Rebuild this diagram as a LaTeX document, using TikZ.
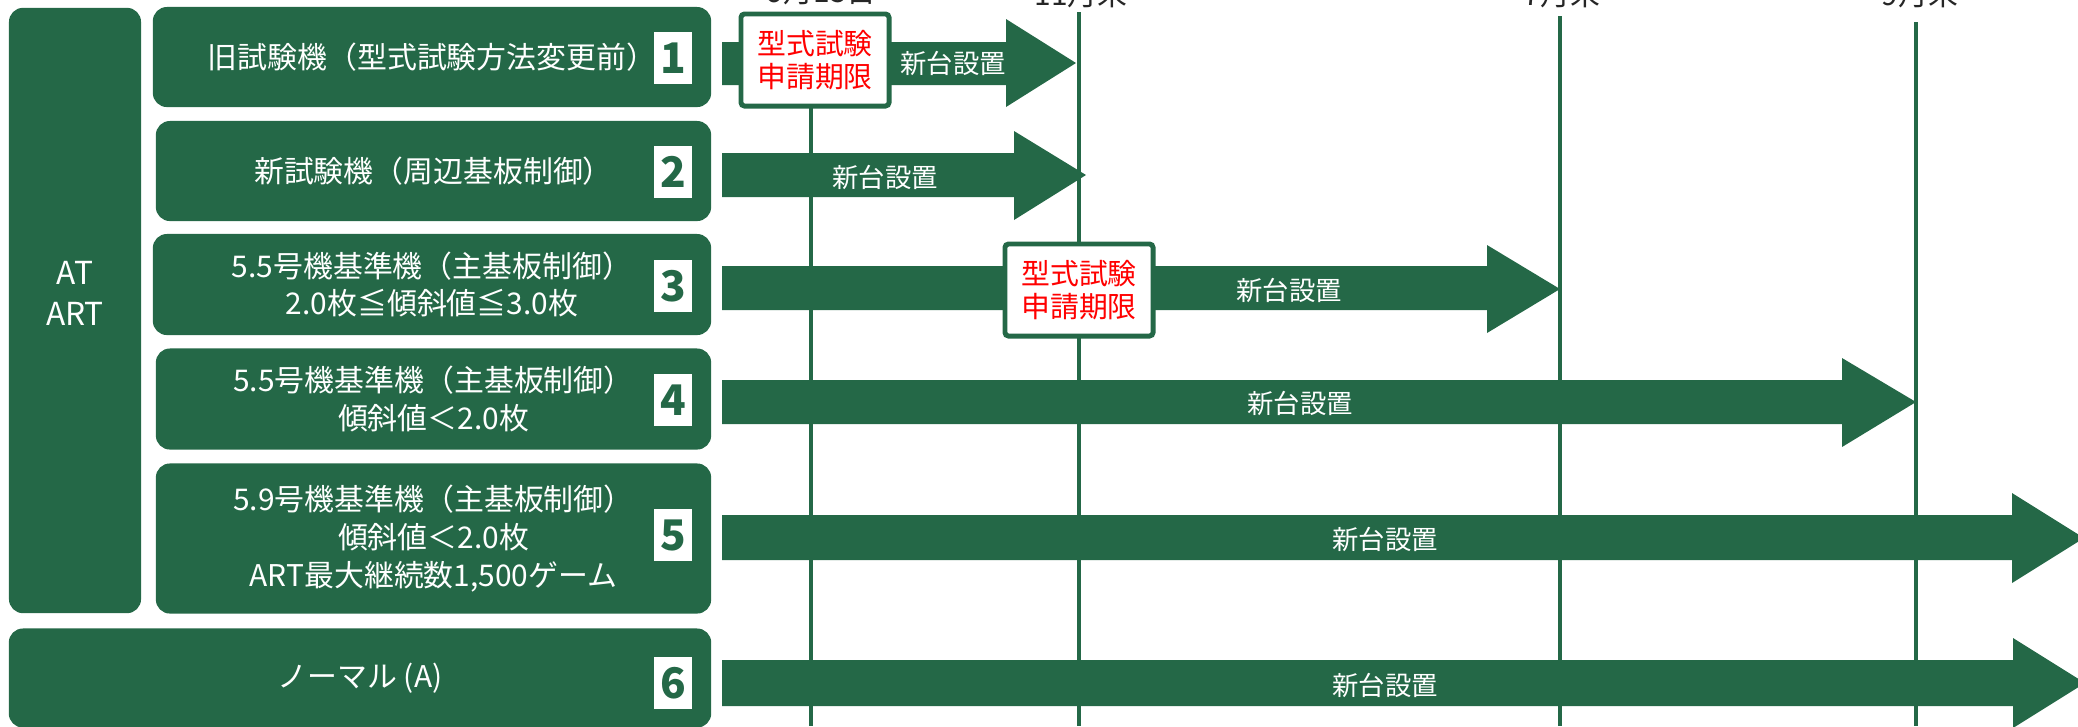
\documentclass[tikz,border=0pt]{standalone}
\usepackage{fontspec}
\setmainfont{Noto Sans CJK JP}
\definecolor{grn}{RGB}{36,104,71}
\definecolor{toplbl}{RGB}{38,38,38}
\begin{document}
\begin{tikzpicture}[x=0.01cm,y=-0.01cm,
  rowbox/.style={fill=grn,draw=none,rounded corners=4pt,inner sep=0pt,
    text=white,align=center,font=\fontsize{8.5pt}{10.7pt}\selectfont},
  numbox/.style={fill=white,draw=none,inner sep=0pt,minimum width=0.38cm,
    minimum height=0.52cm,text=grn,font=\fontsize{12pt}{12pt}\selectfont\bfseries},
  arrowbody/.style={fill=grn,draw=none},
  arrlbl/.style={text=white,inner sep=0pt,font=\fontsize{7.5pt}{9pt}\selectfont},
  deadline/.style={fill=white,draw=grn,line width=1.4pt,rounded corners=1pt,
    inner sep=0pt,minimum width=1.48cm,minimum height=0.92cm,text=red,align=center,
    font=\fontsize{8.2pt}{9.4pt}\selectfont},
  vline/.style={draw=grn,line width=1.4pt},
  datelbl/.style={text=toplbl,anchor=south,inner sep=0pt,font=\fontsize{8.5pt}{10pt}\selectfont}
]
\useasboundingbox (0,0) rectangle (2078,726);
\clip (0,0) rectangle (2078,726);

% timeline labels (cut at top, as in the reference)
\node[datelbl] (d1) at (822,6) {9月15日};
\node[datelbl] (d2) at (1081,9) {11月末};
\node[datelbl] (d3) at (1562,9) {7月末};
\node[datelbl] (d4) at (1920,9) {9月末};

% vertical lines
\coordinate (v1t) at (811,12);  \coordinate (v1b) at (811,726);
\coordinate (v2t) at (1079,12); \coordinate (v2b) at (1079,726);
\coordinate (v3t) at (1560,16); \coordinate (v3b) at (1560,726);
\coordinate (v4t) at (1916,22); \coordinate (v4b) at (1916,726);
\draw[vline] (v1t) -- (v1b);
\draw[vline] (v2t) -- (v2b);
\draw[vline] (v3t) -- (v3b);
\draw[vline] (v4t) -- (v4b);

% left category box
\node[rowbox,minimum width=1.32cm,minimum height=6.05cm] (cat) at (75,310.5) {};
\node[text=white,align=center,inner sep=0pt,font=\fontsize{9pt}{11.7pt}\selectfont] (catlbl) at (75,293) {AT\\ART};

% row boxes
\node[rowbox,minimum width=5.58cm,minimum height=1.00cm] (r1) at (432,57) {旧試験機（型式試験方法変更前）};
\node[rowbox,minimum width=5.55cm,minimum height=1.00cm] (r2) at (433.5,171) {新試験機（周辺基板制御）};
\node[rowbox,minimum width=5.58cm,minimum height=1.01cm] (r3) at (432,284.5) {5.5号機基準機（主基板制御）\\2.0枚≦傾斜値≦3.0枚};
\node[rowbox,minimum width=5.55cm,minimum height=1.01cm] (r4) at (433.5,399) {5.5号機基準機（主基板制御）\\傾斜値＜2.0枚};
\node[rowbox,minimum width=5.55cm,minimum height=1.50cm] (r5) at (433.5,538.5) {5.9号機基準機（主基板制御）\\傾斜値＜2.0枚\\ART最大継続数1,500ゲーム};
\node[rowbox,minimum width=7.02cm,minimum height=0.99cm] (r6) at (360,678) {ノーマル (A)};

% number squares
\node[numbox] (n1) at (673,58) {1};
\node[numbox] (n2) at (673,172) {2};
\node[numbox] (n3) at (673,286) {3};
\node[numbox] (n4) at (673,400) {4};
\node[numbox] (n5) at (673,535) {5};
\node[numbox] (n6) at (673,683) {6};

% block arrows
\fill[arrowbody] (722,42) -- (1006,42) -- (1006,19) -- (1076,63) -- (1006,107) -- (1006,85) -- (722,85) -- cycle;
\fill[arrowbody] (722,153) -- (1014,153) -- (1014,131) -- (1086,175) -- (1014,220) -- (1014,197) -- (722,197) -- cycle;
\fill[arrowbody] (722,266) -- (1487,266) -- (1487,245) -- (1560,289) -- (1487,333) -- (1487,310) -- (722,310) -- cycle;
\fill[arrowbody] (722,380) -- (1842,380) -- (1842,358) -- (1916,402) -- (1842,447) -- (1842,424) -- (722,424) -- cycle;
\fill[arrowbody] (722,515) -- (2012,515) -- (2012,493) -- (2084,538) -- (2012,583) -- (2012,560) -- (722,560) -- cycle;
\fill[arrowbody] (722,660) -- (2013,660) -- (2013,638) -- (2085,683) -- (2013,728) -- (2013,706) -- (722,706) -- cycle;

% arrow labels
\node[arrlbl] (a1) at (953,63) {新台設置};
\node[arrlbl] (a2) at (885,177) {新台設置};
\node[arrlbl] (a3) at (1289,290) {新台設置};
\node[arrlbl] (a4) at (1300,403) {新台設置};
\node[arrlbl] (a5) at (1385,539) {新台設置};
\node[arrlbl] (a6) at (1385,685) {新台設置};

% deadline boxes
\node[deadline] (k1) at (815,60) {型式試験\\申請期限};
\node[deadline] (k2) at (1079,290) {型式試験\\申請期限};
\end{tikzpicture}
\end{document}
